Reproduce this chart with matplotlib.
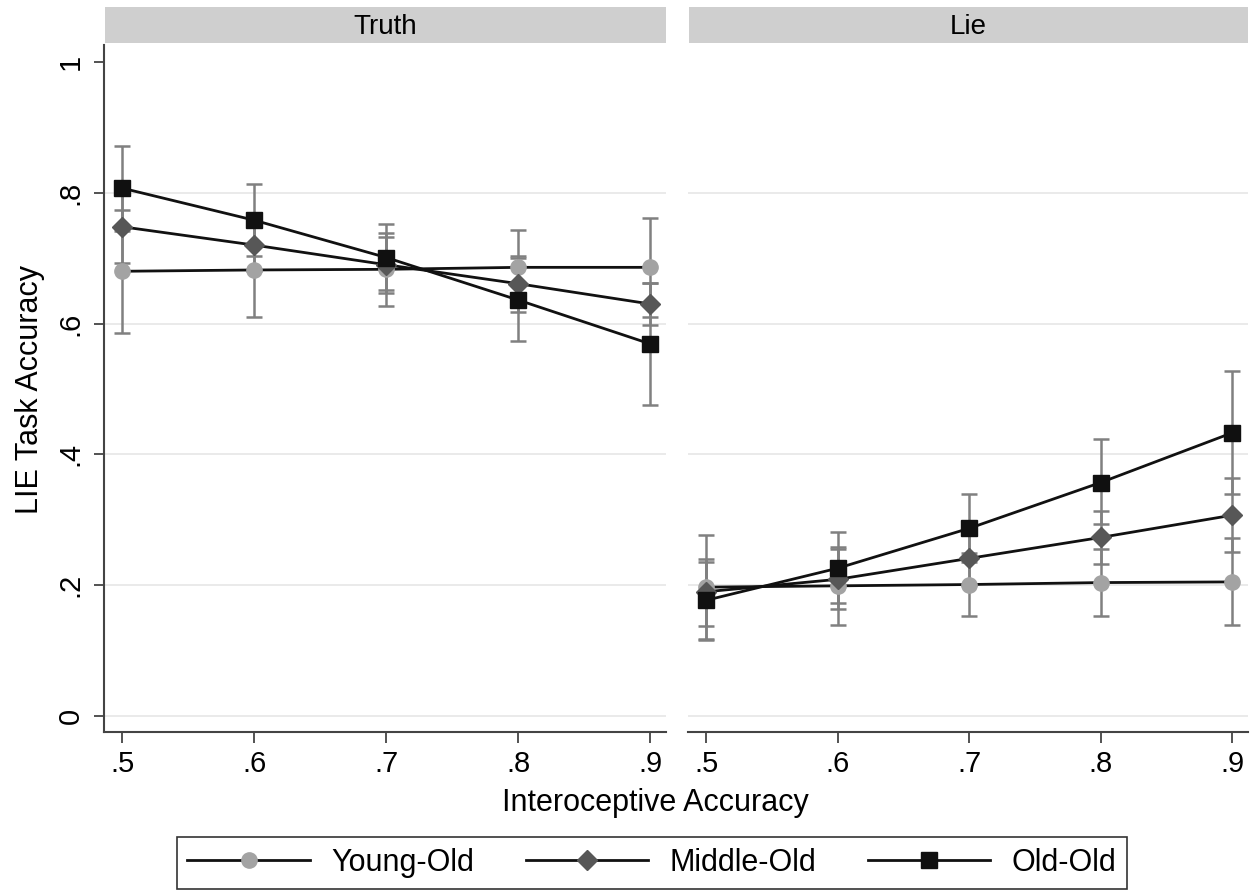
import matplotlib
matplotlib.use("Agg")
import matplotlib.pyplot as plt
from matplotlib.lines import Line2D

plt.rcParams['font.family'] = ['Liberation Sans', 'DejaVu Sans']

x_vals = [0.5, 0.6, 0.7, 0.8, 0.9]
groups = ["Young-Old", "Middle-Old", "Old-Old"]
panels = ["Truth", "Lie"]

# Truth panel: estimates and CI limits
truth_mean = {
    "Young-Old": [0.680, 0.682, 0.683, 0.686, 0.686],
    "Middle-Old": [0.748, 0.720, 0.690, 0.661, 0.630],
    "Old-Old": [0.807, 0.758, 0.701, 0.636, 0.569],
}
truth_lo = {
    "Young-Old": [0.586, 0.610, 0.627, 0.629, 0.610],
    "Middle-Old": [0.693, 0.680, 0.647, 0.618, 0.598],
    "Old-Old": [0.742, 0.703, 0.652, 0.573, 0.476],
}
truth_hi = {
    "Young-Old": [0.774, 0.754, 0.739, 0.743, 0.762],
    "Middle-Old": [0.803, 0.760, 0.733, 0.704, 0.662],
    "Old-Old": [0.872, 0.813, 0.752, 0.700, 0.662],
}

# Lie panel
lie_mean = {
    "Young-Old": [0.197, 0.199, 0.201, 0.204, 0.205],
    "Middle-Old": [0.190, 0.209, 0.241, 0.273, 0.307],
    "Old-Old": [0.177, 0.226, 0.287, 0.357, 0.433],
}
lie_lo = {
    "Young-Old": [0.118, 0.139, 0.153, 0.153, 0.139],
    "Middle-Old": [0.137, 0.163, 0.201, 0.232, 0.250],
    "Old-Old": [0.116, 0.172, 0.235, 0.294, 0.339],
}
lie_hi = {
    "Young-Old": [0.276, 0.259, 0.249, 0.255, 0.272],
    "Middle-Old": [0.235, 0.255, 0.281, 0.314, 0.364],
    "Old-Old": [0.240, 0.281, 0.339, 0.423, 0.528],
}

y_ticks = [0, 0.2, 0.4, 0.6, 0.8, 1.0]
y_ticklabels = ["0", ".2", ".4", ".6", ".8", "1"]
x_ticklabels = [".5", ".6", ".7", ".8", ".9"]

styles = {
    "Young-Old": dict(marker="o", color="#a3a3a3", ms=11),
    "Middle-Old": dict(marker="D", color="#575757", ms=10),
    "Old-Old": dict(marker="s", color="#101010", ms=11),
}

W, H = 1257, 892
fig = plt.figure(figsize=(W / 100, H / 100), dpi=100)


def px_rect(l, t, r, b):
    return [l / W, 1 - b / H, (r - l) / W, (b - t) / H]


ax_l = fig.add_axes(px_rect(104, 45, 666, 732))
ax_r = fig.add_axes(px_rect(688, 45, 1248, 732))

data = [(truth_mean, truth_lo, truth_hi), (lie_mean, lie_lo, lie_hi)]

for ax, (mean, lo, hi) in zip([ax_l, ax_r], data):
    for yv in y_ticks[:-1]:
        ax.axhline(yv, color="#e6e6e6", lw=1.2, zorder=0)
    for g in groups:
        m = mean[g]
        err = [[a - b for a, b in zip(m, lo[g])], [b - a for a, b in zip(m, hi[g])]]
        ax.errorbar(x_vals, m, yerr=err, fmt="none", ecolor="#808080",
                    elinewidth=1.8, capsize=5.5, capthick=1.8, zorder=2)
    for g in groups:
        st = styles[g]
        ax.plot(x_vals, mean[g], color="#111111", lw=2, zorder=3)
        ax.plot(x_vals, mean[g], ls="none", marker=st["marker"], ms=st["ms"],
                mfc=st["color"], mec=st["color"], zorder=4)
    ax.set_xlim(0.486, 0.912)
    ax.set_ylim(-0.0245, 1.026)
    ax.set_xticks(x_vals)
    ax.set_xticklabels(x_ticklabels, fontsize=21)
    for s in ["top", "right"]:
        ax.spines[s].set_visible(False)
    ax.spines["bottom"].set_color("#444444")
    ax.spines["bottom"].set_linewidth(1.5)
    ax.tick_params(axis="x", length=8, width=1.3, color="#444444", pad=5)

ax_l.spines["left"].set_color("#444444")
ax_l.spines["left"].set_linewidth(1.5)
ax_l.set_yticks(y_ticks)
ax_l.set_yticklabels(y_ticklabels, fontsize=21, rotation=90, va="center")
ax_l.tick_params(axis="y", length=7, width=1.3, color="#444444", pad=7)
ax_r.spines["left"].set_visible(False)
ax_r.set_yticks([])

# panel strips
for (l, r), name in zip([(105, 666), (689, 1248)], panels):
    sa = fig.add_axes(px_rect(l, 7, r, 43))
    sa.set_facecolor("#cfcfcf")
    sa.set_xticks([])
    sa.set_yticks([])
    for s in sa.spines.values():
        s.set_visible(False)
    sa.text(0.5, 0.45, name, ha="center", va="center", fontsize=20, transform=sa.transAxes)

fig.text(655 / W, 1 - 803 / H, "Interoceptive Accuracy", ha="center", va="center", fontsize=22)
fig.text(30 / W, 1 - 389 / H, "LIE Task Accuracy", ha="center", va="center", fontsize=22, rotation=90)

handles = [Line2D([], [], color="#111111", lw=2, marker=styles[g]["marker"], ms=styles[g]["ms"],
                  mfc=styles[g]["color"], mec=styles[g]["color"]) for g in groups]
leg = fig.legend(handles, groups, loc="center", bbox_to_anchor=(652 / W, 1 - 863 / H), ncol=3,
                 fontsize=22, frameon=True, fancybox=False, edgecolor="black", handlelength=4.0,
                 handletextpad=0.7, columnspacing=1.7, borderpad=0.35, borderaxespad=0)
leg.get_frame().set_linewidth(1.2)

fig.savefig("out.png", dpi=100)
